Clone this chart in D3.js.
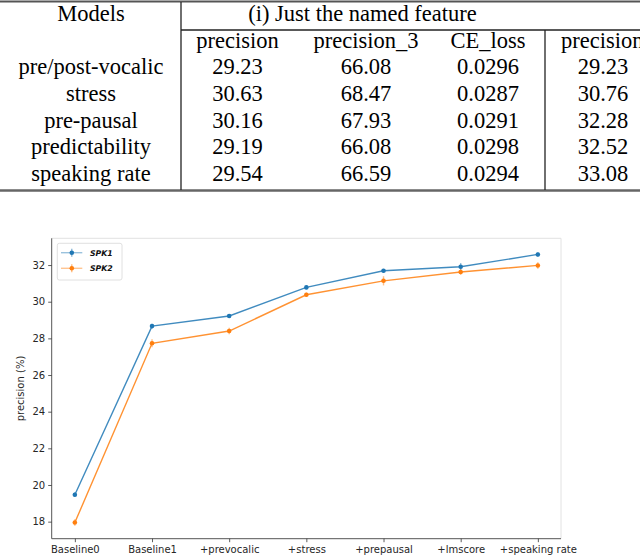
<!DOCTYPE html>
<html lang="en">
<head>
<meta charset="UTF-8">
<title>Precision table and chart</title>
<script src="https://d3js.org/d3.v7.min.js"></script>
<style>
  body { margin: 0; background: #fff; }
  svg { display: block; }
  .tbl text { font-family: "Liberation Serif", "Times New Roman", serif; font-size: 22.5px; fill: #000; }
  .axis text { font-family: "DejaVu Sans", sans-serif; font-size: 10px; fill: #262626; }
  .axis path { display: none; }
  .axis line { stroke: #333; stroke-width: 0.8; }
</style>
</head>
<body>
<div id="chart"></div>
<script>
    // Table data
    const groupTitle = "(i) Just the named feature";
    const columnNames = ["precision", "precision_3", "CE_loss", "precision"];
    const features = ["pre/post-vocalic", "stress", "pre-pausal", "predictability", "speaking rate"];
    const colPrecision = ["29.23", "30.63", "30.16", "29.19", "29.54"];
    const colPrecision3 = ["66.08", "68.47", "67.93", "66.08", "66.59"];
    const colCELoss = ["0.0296", "0.0287", "0.0291", "0.0298", "0.0294"];
    const colPrecisionB = ["29.23", "30.76", "32.28", "32.52", "33.08"];

    // Chart data
    const models = ["Baseline0", "Baseline1", "+prevocalic", "+stress", "+prepausal", "+lmscore", "+speaking rate"];
    const spk1 = [19.47, 28.67, 29.22, 30.78, 31.69, 31.91, 32.58];
    const spk1Err = [0.13, 0.13, 0.1, 0.1, 0.1, 0.2, 0.12];
    const spk2 = [17.95, 27.73, 28.40, 30.38, 31.14, 31.62, 31.98];
    const spk2Err = [0.18, 0.22, 0.18, 0.12, 0.25, 0.15, 0.18];
    const yTicks = [18, 20, 22, 24, 26, 28, 30, 32];

    const W = 640, H = 556;
    const svg = d3.select("#chart").append("svg")
        .attr("width", W)
        .attr("height", H);

    // ---------- table ----------
    const tbl = svg.append("g").attr("class", "tbl");
    const colX = [91, 237.5, 366, 488, 603];
    const rowY = d3.scaleLinear().domain([0, 6]).range([21, 181]);

    const rows = features.map((f, i) => [f, colPrecision[i], colPrecision3[i], colCELoss[i], colPrecisionB[i]]);

    // lines
    tbl.append("line").attr("x1", 0).attr("x2", W).attr("y1", 1.5).attr("y2", 1.5)
        .attr("stroke", "#555").attr("stroke-width", 2.2);
    tbl.append("line").attr("x1", 0).attr("x2", W).attr("y1", 190.5).attr("y2", 190.5)
        .attr("stroke", "#666").attr("stroke-width", 2.4);
    tbl.append("line").attr("x1", 181).attr("x2", W).attr("y1", 30).attr("y2", 30)
        .attr("stroke", "#222").attr("stroke-width", 1.3);
    tbl.append("line").attr("x1", 181).attr("x2", 181).attr("y1", 2).attr("y2", 190)
        .attr("stroke", "#222").attr("stroke-width", 1.3);
    tbl.append("line").attr("x1", 545).attr("x2", 545).attr("y1", 30).attr("y2", 190)
        .attr("stroke", "#222").attr("stroke-width", 1.3);

    tbl.append("text").attr("x", colX[0]).attr("y", rowY(0))
        .attr("text-anchor", "middle").text("Models");
    tbl.append("text").attr("x", 362.5).attr("y", rowY(0))
        .attr("text-anchor", "middle").text(groupTitle);

    tbl.selectAll(".colname")
        .data(columnNames)
        .enter().append("text")
        .attr("class", "colname")
        .attr("x", (d, i) => i === 3 ? 561 : colX[i + 1])
        .attr("y", rowY(1))
        .attr("text-anchor", (d, i) => i === 3 ? "start" : "middle")
        .text(d => d);

    const rowG = tbl.selectAll(".row")
        .data(rows)
        .enter().append("g")
        .attr("class", "row")
        .attr("transform", (d, i) => `translate(0,${rowY(i + 2)})`);

    rowG.selectAll("text")
        .data(d => d)
        .enter().append("text")
        .attr("x", (d, i) => colX[i])
        .attr("text-anchor", "middle")
        .text(d => d);

    // ---------- chart ----------
    const plotL = 51.7, plotR = 561, plotT = 238.3, plotB = 538.7;

    const x = d3.scalePoint()
        .domain(models)
        .range([plotL, plotR])
        .padding(0.3);

    const y = d3.scaleLinear()
        .domain([17.07, 33.46])
        .range([plotB, plotT]);

    // frame: light top/right, darker left/bottom
    svg.append("line").attr("x1", plotL).attr("x2", plotR).attr("y1", plotT).attr("y2", plotT)
        .attr("stroke", "#e2e2e2").attr("stroke-width", 1);
    svg.append("line").attr("x1", plotR).attr("x2", plotR).attr("y1", plotT).attr("y2", plotB)
        .attr("stroke", "#e2e2e2").attr("stroke-width", 1);
    svg.append("line").attr("x1", plotL).attr("x2", plotL).attr("y1", plotT).attr("y2", plotB)
        .attr("stroke", "#555").attr("stroke-width", 1);
    svg.append("line").attr("x1", plotL).attr("x2", plotR).attr("y1", plotB).attr("y2", plotB)
        .attr("stroke", "#555").attr("stroke-width", 1);

    svg.append("g")
        .attr("class", "axis")
        .attr("transform", `translate(${plotL},0)`)
        .call(d3.axisLeft(y).tickValues(yTicks).tickSize(3.5).tickPadding(3));

    svg.append("g")
        .attr("class", "axis")
        .attr("transform", `translate(0,${plotB})`)
        .call(d3.axisBottom(x).tickSize(3.5).tickPadding(3.5));

    svg.append("text")
        .attr("transform", `translate(24,${(plotT + plotB) / 2}) rotate(-90)`)
        .attr("text-anchor", "middle")
        .attr("font-family", "DejaVu Sans, sans-serif")
        .attr("font-size", 10)
        .attr("fill", "#262626")
        .text("precision (%)");

    const series = [
        { name: "SPK1", values: spk1, err: spk1Err, color: "#1f77b4" },
        { name: "SPK2", values: spk2, err: spk2Err, color: "#ff7f0e" }
    ];

    const line = d3.line()
        .x((d, i) => x(models[i]))
        .y(d => y(d));

    series.forEach(s => {
        const g = svg.append("g");
        g.append("path")
            .datum(s.values)
            .attr("fill", "none")
            .attr("stroke", s.color)
            .attr("stroke-width", 1.4)
            .attr("stroke-opacity", 0.85)
            .attr("d", line);

        g.selectAll(".err")
            .data(s.values)
            .enter().append("line")
            .attr("x1", (d, i) => x(models[i]))
            .attr("x2", (d, i) => x(models[i]))
            .attr("y1", (d, i) => y(d - s.err[i]))
            .attr("y2", (d, i) => y(d + s.err[i]))
            .attr("stroke", s.color)
            .attr("stroke-opacity", 0.5)
            .attr("stroke-width", 1.4);

        g.selectAll(".pt")
            .data(s.values)
            .enter().append("circle")
            .attr("cx", (d, i) => x(models[i]))
            .attr("cy", d => y(d))
            .attr("r", 2.3)
            .attr("fill", s.color);
    });

    // legend
    const legend = svg.append("g").attr("transform", "translate(57.3,243.3)");
    legend.append("rect")
        .attr("width", 64.7)
        .attr("height", 36.7)
        .attr("rx", 2)
        .attr("fill", "#fff")
        .attr("fill-opacity", 0.8)
        .attr("stroke", "#d8d8d8")
        .attr("stroke-width", 0.8);

    const item = legend.selectAll(".item")
        .data(series)
        .enter().append("g")
        .attr("class", "item")
        .attr("transform", (d, i) => `translate(0,${9.4 + i * 15.6})`);

    item.append("line")
        .attr("x1", 3.7).attr("x2", 25)
        .attr("stroke", d => d.color)
        .attr("stroke-opacity", 0.45)
        .attr("stroke-width", 1.4);
    item.append("line")
        .attr("x1", 14.5).attr("x2", 14.5).attr("y1", -4).attr("y2", 4)
        .attr("stroke", d => d.color)
        .attr("stroke-opacity", 0.6)
        .attr("stroke-width", 1.2);
    item.append("circle")
        .attr("cx", 14.5)
        .attr("r", 2.3)
        .attr("fill", d => d.color);
    item.append("text")
        .attr("x", 32.7)
        .attr("y", 2.9)
        .attr("font-family", "DejaVu Sans, sans-serif")
        .attr("font-size", 7.8)
        .attr("font-style", "italic")
        .attr("font-weight", "bold")
        .attr("fill", "#111")
        .text(d => d.name);
</script>
</body>
</html>
